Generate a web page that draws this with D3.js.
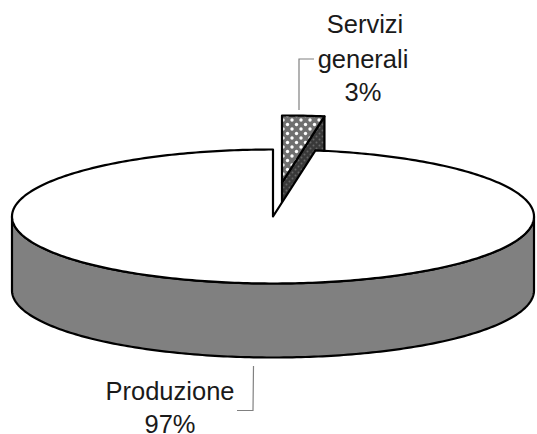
<!DOCTYPE html>
<html><head><meta charset="utf-8">
<script src="https://cdn.jsdelivr.net/npm/d3@7/dist/d3.min.js"></script>
<style>html,body{margin:0;background:#fff}svg{display:block}text{font-family:"Liberation Sans",Arial,sans-serif;font-size:25.5px;fill:#1a1a1a}</style>
</head><body><svg id="c" width="537" height="434"></svg>
<script>
const categories = ["Servizi generali", "Produzione"];
const values = [2.6, 97.4];
const shownLabels = ["3%", "97%"];

const svg = d3.select("#c");
const cx = 273, cy = 216.5, rx = 261, ry = 67, depth = 74;
const explode = [9, -34];
const lw = 2.2;

const defs = svg.append("defs");
const pa = defs.append("pattern").attr("id","dots").attr("width",9).attr("height",9)
  .attr("patternUnits","userSpaceOnUse").attr("x",2).attr("y",1);
pa.append("rect").attr("width",9).attr("height",9).attr("fill","#6f6f6f");
pa.append("circle").attr("cx",2).attr("cy",2).attr("r",1.7).attr("fill","#fff");
pa.append("circle").attr("cx",6.5).attr("cy",6.5).attr("r",1.7).attr("fill","#fff");
const pb = defs.append("pattern").attr("id","darkdots").attr("width",6).attr("height",6)
  .attr("patternUnits","userSpaceOnUse");
pb.append("rect").attr("width",6).attr("height",6).attr("fill","#383838");
pb.append("circle").attr("cx",1.5).attr("cy",1.5).attr("r",1).attr("fill","#666");
pb.append("circle").attr("cx",4.5).attr("cy",4.5).attr("r",1).attr("fill","#666");

const arcs = d3.pie().sort(null).value(d => d)(values);
const xS = d3.scaleLinear().domain([-1,1]).range([cx-rx,cx+rx]);
const yS = d3.scaleLinear().domain([-1,1]).range([cy-ry,cy+ry]);
const P = (a, dx=0, dy=0) => [xS(Math.sin(a))+dx, yS(-Math.cos(a))+dy];
const line = d3.line();
const sample = (a0,a1,dx=0,dy=0) => {
  const n = Math.max(2, Math.ceil(Math.abs(a1-a0)*60));
  return d3.range(n+1).map(i => P(a0+(a1-a0)*i/n,dx,dy));
};
const stroke = s => s.attr("stroke","#000").attr("stroke-width",lw).attr("stroke-linejoin","round");

const wedge = arcs[0], main = arcs[1];

// main pie: front wall
const front = sample(Math.PI/2, 3*Math.PI/2);
const frontLow = sample(3*Math.PI/2, Math.PI/2, 0, depth);
svg.append("path").attr("d", line([...front, ...frontLow])+"Z").attr("fill","#808080").call(stroke);

// exploded wedge: walls, then top
const [ex, ey] = explode;
const apex = [cx+ex, cy+ey];
const outer = P(wedge.endAngle, ex, ey);
svg.append("path")
  .attr("d", line([apex, outer, [outer[0],outer[1]+depth], [apex[0],apex[1]+depth]])+"Z")
  .attr("fill","url(#darkdots)").call(stroke);
svg.append("path")
  .attr("d", line([apex, ...sample(wedge.startAngle, wedge.endAngle, ex, ey)])+"Z")
  .attr("fill","url(#dots)").call(stroke);

// main pie: top face
svg.append("path")
  .attr("d", line([[cx,cy], ...sample(main.startAngle, main.endAngle)])+"Z")
  .attr("fill","#fff").call(stroke);

// leader lines
const leaderA = [[299,110],[299,59],[314,59]];
const leaderB = [[253.5,366],[253,410.5],[237,410.5]];
[leaderA, leaderB].forEach(l => svg.append("path").attr("d",line(l)).attr("fill","none")
  .attr("stroke","#808080").attr("stroke-width",1.2));

// labels
const wordsA = categories[0].split(" ");
[[wordsA[0],32.5,365],[wordsA[1],67.5,363],[shownLabels[0],101,363]].forEach(([t,y,x]) =>
  svg.append("text").attr("x",x).attr("y",y).attr("text-anchor","middle").text(t));
svg.append("text").attr("x",170).attr("y",400).attr("text-anchor","middle").text(categories[1]);
svg.append("text").attr("x",170).attr("y",433).attr("text-anchor","middle").text(shownLabels[1]);
</script></body></html>
